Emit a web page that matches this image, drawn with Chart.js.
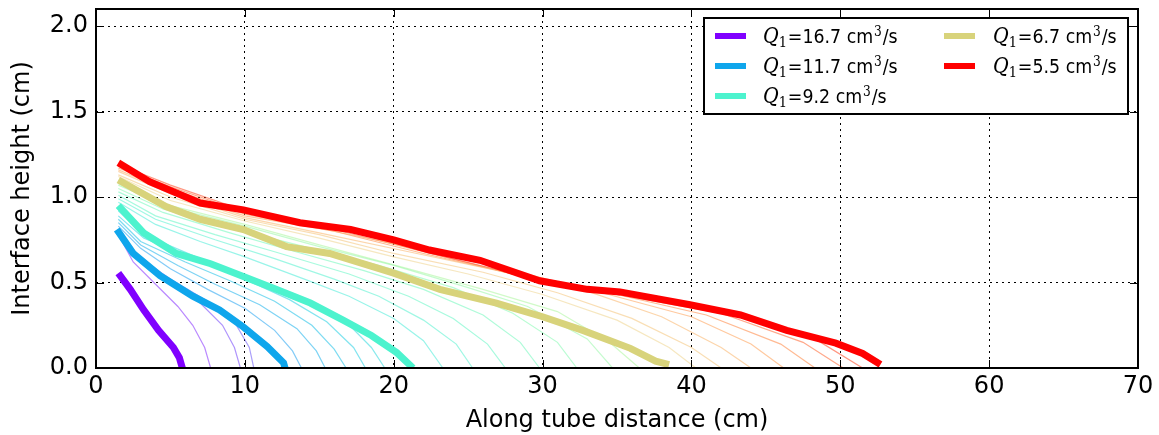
<!DOCTYPE html>
<html lang="en">
<head>
  <meta charset="UTF-8" />
  <title>Interface height along tube</title>
  <script src="https://cdn.jsdelivr.net/npm/chart.js"></script>
  <style>
    html, body { margin: 0; padding: 0; background: #fff; }
    #wrap { width: 1159px; height: 435px; }
  </style>
</head>
<body>
  <div id="wrap"><canvas id="heightChart" width="1159" height="435"></canvas></div>

  <script>
    // axis ticks
    const xTicks = [0, 10, 20, 30, 40, 50, 60, 70];
    const yTicks = [0.0, 0.5, 1.0, 1.5, 2.0];

    // flow rates (cm^3/s) for the legend
    const flowRates = ['16.7', '11.7', '9.2', '6.7', '5.5'];

    // thick curves: [distance cm, height cm]
    const q167 = [[1.5,0.555],[2.3,0.46],[3.2,0.34],[4.2,0.22],[5.2,0.12],[5.6,0.06],[5.8,0.0]];
    const q117 = [[1.4,0.81],[2.5,0.67],[4.3,0.54],[6.5,0.42],[8.3,0.34],[9.9,0.24],[11.5,0.125],[12.6,0.03],[12.7,0.0]];
    const q92  = [[1.5,0.95],[3.2,0.79],[5.4,0.67],[7.7,0.61],[9.9,0.535],[12.1,0.46],[14.4,0.38],[16.6,0.28],[18.5,0.19],[20.2,0.09],[21.3,0.0]];
    const q67  = [[1.5,1.10],[4.7,0.945],[7.0,0.87],[9.9,0.81],[12.8,0.71],[15.7,0.67],[20,0.555],[23.1,0.46],[26.9,0.38],[30,0.30],[32.7,0.22],[35.9,0.115],[37.6,0.04],[38.5,0.02]];
    const q55  = [[1.5,1.20],[3.6,1.09],[7.0,0.965],[9.9,0.925],[13.7,0.85],[17.1,0.81],[20,0.75],[22.4,0.69],[25.8,0.63],[29.8,0.51],[33,0.46],[35.2,0.445],[39.9,0.37],[43.3,0.31],[46.4,0.22],[49.7,0.145],[51.5,0.085],[52.7,0.02]];

    // faint intermediate curves
    const thinPurple = [
      [[1.5,0.78],[2.5,0.62],[4,0.49],[5.5,0.36],[6.5,0.25],[7.3,0.12],[7.7,0]],
      [[1.5,0.79],[3,0.62],[5,0.50],[7,0.38],[8.5,0.25],[9.3,0.12],[9.7,0]],
      [[1.5,0.80],[3,0.64],[5,0.52],[7.5,0.39],[9.3,0.27],[10.3,0.12],[10.6,0]]
    ];
    const thinBlue = [
      [[1.5,0.83],[3,0.70],[5,0.58],[7.5,0.46],[10,0.35],[12,0.22],[13.2,0.1],[13.8,0]],
      [[1.5,0.85],[3,0.72],[5.5,0.60],[8,0.49],[11,0.37],[13.5,0.23],[14.8,0.1],[15.4,0]],
      [[1.5,0.87],[3,0.74],[6,0.62],[9,0.51],[12,0.39],[14.5,0.25],[16,0.11],[16.8,0]],
      [[1.5,0.89],[3.2,0.76],[6.5,0.64],[10,0.52],[13,0.40],[15.5,0.27],[17.3,0.12],[18.1,0]],
      [[1.5,0.92],[3.2,0.78],[7,0.64],[10.5,0.52],[14,0.40],[16.8,0.27],[18.5,0.12],[19.4,0]]
    ];
    const thinCyan = [
      [[1.5,0.97],[4,0.84],[7,0.74],[10,0.65],[14,0.52],[17,0.42],[20,0.29],[22,0.16],[23.3,0]],
      [[1.5,0.99],[4,0.87],[8,0.75],[12,0.64],[16,0.52],[19,0.42],[22,0.28],[24.2,0.14],[25.3,0]],
      [[1.5,1.01],[4,0.89],[8,0.78],[12,0.68],[17,0.55],[21,0.42],[24,0.29],[26.3,0.14],[27.5,0]],
      [[1.5,1.03],[4.5,0.91],[9,0.79],[13,0.69],[18,0.57],[22,0.46],[26,0.31],[28.5,0.15],[29.8,0]],
      [[1.5,1.05],[4.5,0.93],[9,0.82],[14,0.71],[19,0.60],[24,0.47],[28,0.32],[31,0.15],[32.3,0]],
      [[1.5,1.07],[5,0.94],[10,0.83],[15,0.71],[20,0.60],[25,0.47],[29,0.36],[33,0.17],[34.7,0]],
      [[1.5,1.08],[5,0.95],[10,0.84],[15,0.72],[21,0.58],[26,0.46],[31,0.33],[34.5,0.15],[36.5,0]]
    ];
    const thinOrange = [
      [[1.5,1.12],[5,0.98],[10,0.86],[15,0.76],[20,0.65],[25,0.55],[30,0.43],[35,0.28],[38.5,0.12],[40.3,0]],
      [[1.5,1.13],[5,1.00],[10,0.87],[15,0.78],[20,0.67],[26,0.56],[31,0.44],[36,0.29],[40,0.12],[42,0]],
      [[1.5,1.15],[5,1.02],[10,0.88],[15,0.79],[21,0.68],[27,0.57],[33,0.45],[38,0.30],[42,0.12],[44,0]],
      [[1.5,1.16],[5,1.03],[10,0.89],[16,0.80],[22,0.69],[28,0.57],[34,0.44],[40,0.30],[44,0.14],[46.2,0]],
      [[1.5,1.17],[5,1.05],[10,0.90],[16,0.80],[22,0.67],[28,0.55],[35,0.43],[41,0.31],[46,0.14],[48.3,0]],
      [[1.5,1.18],[5,1.06],[10,0.91],[16,0.81],[22,0.68],[28,0.55],[35,0.43],[42,0.32],[47.5,0.15],[50.2,0]],
      [[1.5,1.19],[5,1.07],[10,0.92],[17,0.80],[23,0.66],[29,0.53],[35,0.44],[42,0.33],[48.5,0.16],[51.5,0]]
    ];

    const thickColors = ['#8000ff', '#0fa6ec', '#4df3ce', '#d8d37b', '#ff0000'];
    const thinPurpleColors = ['rgba(130,40,255,0.55)', 'rgba(110,60,250,0.55)', 'rgba(100,80,245,0.55)'];
    const thinBlueColors = ['rgba(30,160,240,0.55)', 'rgba(20,175,235,0.55)', 'rgba(20,190,230,0.55)', 'rgba(30,205,225,0.55)', 'rgba(40,215,220,0.55)'];
    const thinCyanColors = ['rgba(70,235,215,0.55)', 'rgba(80,240,205,0.55)', 'rgba(95,245,195,0.55)', 'rgba(110,248,185,0.55)', 'rgba(130,250,175,0.55)', 'rgba(150,248,165,0.55)', 'rgba(170,245,155,0.55)'];
    const thinOrangeColors = ['rgba(240,215,150,0.6)', 'rgba(245,200,130,0.6)', 'rgba(250,185,115,0.6)', 'rgba(255,165,95,0.6)', 'rgba(255,140,75,0.6)', 'rgba(255,110,60,0.6)', 'rgba(255,80,45,0.6)'];

    const toPts = arr => arr.map(p => ({ x: p[0], y: p[1] }));

    const datasets = [];
    [q167, q117, q92, q67, q55].forEach((curve, i) => {
      datasets.push({
        label: 'Q1=' + flowRates[i] + ' cm3/s',
        data: toPts(curve),
        borderColor: thickColors[i],
        borderWidth: 7,
        pointRadius: 0,
        borderJoinStyle: 'miter',
        borderCapStyle: 'butt'
      });
    });
    function addThin(group, colors) {
      group.forEach((curve, i) => {
        datasets.push({
          label: '',
          data: toPts(curve),
          borderColor: colors[i],
          borderWidth: 1.2,
          pointRadius: 0
        });
      });
    }
    addThin(thinPurple, thinPurpleColors);
    addThin(thinBlue, thinBlueColors);
    addThin(thinCyan, thinCyanColors);
    addThin(thinOrange, thinOrangeColors);

    // frame, inward ticks on all four sides, and the boxed legend
    const framePlugin = {
      id: 'frame',
      afterDraw(chart) {
        const ctx = chart.ctx;
        const a = chart.chartArea;
        const xs = chart.scales.x, ys = chart.scales.y;
        ctx.save();
        ctx.strokeStyle = '#000';
        ctx.lineWidth = 1;
        ctx.beginPath();
        xTicks.forEach(v => {
          const px = Math.round(xs.getPixelForValue(v)) + 0.5;
          ctx.moveTo(px, a.bottom); ctx.lineTo(px, a.bottom - 8);
          ctx.moveTo(px, a.top); ctx.lineTo(px, a.top + 8);
        });
        yTicks.forEach(v => {
          const py = Math.round(ys.getPixelForValue(v)) + 0.5;
          ctx.moveTo(a.left, py); ctx.lineTo(a.left + 8, py);
          ctx.moveTo(a.right, py); ctx.lineTo(a.right - 8, py);
        });
        ctx.stroke();
        ctx.lineWidth = 2;
        ctx.strokeRect(a.left, a.top, a.right - a.left, a.bottom - a.top);

        // legend
        const bx = 704, by = 18, bw = 424, bh = 96;
        ctx.fillStyle = '#fff';
        ctx.fillRect(bx, by, bw, bh);
        ctx.lineWidth = 2;
        ctx.strokeRect(bx, by, bw, bh);
        const cols = [[715, 763], [944, 993]];
        const rows = [36, 66, 96];
        flowRates.forEach((q, i) => {
          const c = i < 3 ? cols[0] : cols[1];
          const cy = rows[i < 3 ? i : i - 3];
          ctx.strokeStyle = thickColors[i];
          ctx.lineWidth = 6;
          ctx.beginPath();
          ctx.moveTo(c[0], cy); ctx.lineTo(c[0] + 31, cy);
          ctx.stroke();
          drawLabel(ctx, c[1], cy + 7, q);
        });
        ctx.restore();
      }
    };

    // Q_1=.. cm^3/s, drawn slightly condensed like the original legend
    function drawLabel(ctx, x0, base, q) {
      ctx.save();
      ctx.translate(x0, base);
      ctx.scale(0.87, 1);
      ctx.fillStyle = '#000';
      ctx.textAlign = 'left';
      ctx.textBaseline = 'alphabetic';
      let x = 0;
      ctx.font = 'italic 22px "DejaVu Serif"';
      ctx.fillText('Q', x, 0);
      x += ctx.measureText('Q').width;
      ctx.font = '15px "DejaVu Serif"';
      ctx.fillText('1', x, 4);
      x += ctx.measureText('1').width + 1;
      ctx.font = '20px "DejaVu Sans"';
      const main = '=' + q + ' cm';
      ctx.fillText(main, x, 0);
      x += ctx.measureText(main).width + 1;
      ctx.font = '14px "DejaVu Serif"';
      ctx.fillText('3', x, -7);
      x += ctx.measureText('3').width + 1;
      ctx.font = '20px "DejaVu Sans"';
      ctx.fillText('/s', x, 0);
      ctx.restore();
    }

    const tickFont = { family: 'DejaVu Sans', size: 24 };

    new Chart(document.getElementById('heightChart'), {
      type: 'line',
      data: { datasets: datasets },
      plugins: [framePlugin],
      options: {
        responsive: false,
        animation: false,
        devicePixelRatio: 1,
        layout: { padding: { top: 9, right: 21, left: 0, bottom: 0 } },
        plugins: { legend: { display: false }, tooltip: { enabled: false } },
        elements: { line: { tension: 0 } },
        scales: {
          x: {
            type: 'linear',
            min: 0, max: 70,
            afterBuildTicks: s => { s.ticks = xTicks.map(v => ({ value: v })); },
            afterFit: s => { s.height = 67; s.paddingLeft = 0; s.paddingRight = 0; },
            ticks: { font: tickFont, color: '#000', padding: 4, maxRotation: 0, callback: v => String(v) },
            grid: { color: '#000', lineWidth: 1, drawTicks: false },
            border: { display: false, dash: [2, 4] },
            title: { display: true, text: 'Along tube distance (cm)', font: tickFont, color: '#000', padding: { top: 0, bottom: 0 } }
          },
          y: {
            type: 'linear',
            min: 0, max: 2.1,
            afterBuildTicks: s => { s.ticks = yTicks.map(v => ({ value: v })); },
            afterFit: s => { s.width = 96; s.paddingTop = 0; s.paddingBottom = 0; },
            ticks: { font: tickFont, color: '#000', padding: 8, callback: v => v.toFixed(1) },
            grid: { color: '#000', lineWidth: 1, drawTicks: false },
            border: { display: false, dash: [2, 4] },
            title: { display: true, text: 'Interface height (cm)', font: tickFont, color: '#000', padding: { top: 8, bottom: 0 } }
          }
        }
      }
    });
  </script>
</body>
</html>
